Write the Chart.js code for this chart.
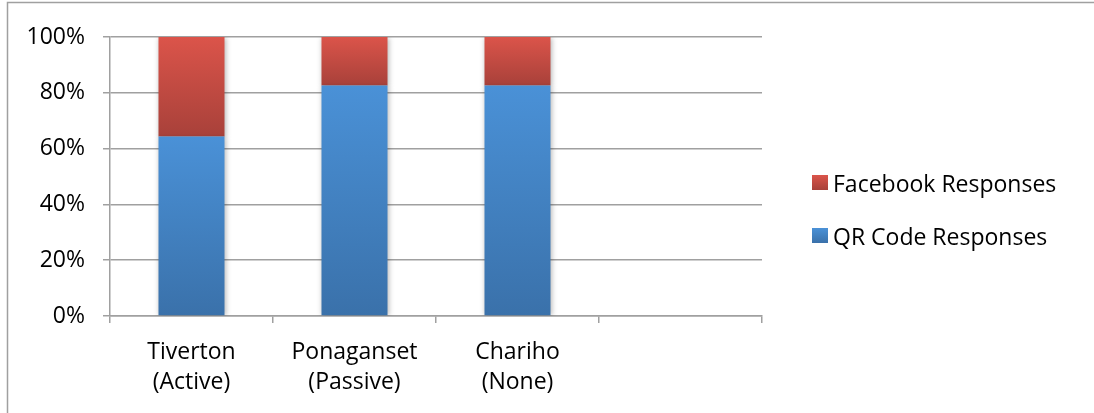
<!DOCTYPE html>
<html>
<head>
<meta charset="utf-8">
<script src="https://cdn.jsdelivr.net/npm/chart.js@4/dist/chart.umd.min.js"></script>
<style>
  html, body { margin: 0; padding: 0; background: #fff; }
  #wrap { width: 1094px; height: 413px; position: relative; }
</style>
</head>
<body>
<div id="wrap"><canvas id="c" width="1094" height="413"></canvas></div>
<script>
const categories = [['Tiverton', '(Active)'], ['Ponaganset', '(Passive)'], ['Chariho', '(None)'], ''];
const qrResponses = [64.3, 82.6, 82.6, null];
const facebookResponses = [35.7, 17.4, 17.4, null];
const yTicks = [0, 20, 40, 60, 80, 100];

const FONT = '"Open Sans", "DejaVu Sans", sans-serif';
const FONT_SIZE = 23;

const seriesColors = {
  'QR Code Responses': ['#4a91d7', '#3a71aa'],
  'Facebook Responses': ['#db544a', '#a8413a']
};

function segGradient(c, lowArr, highArr, topColor, bottomColor) {
  const chart = c.chart;
  if (!chart.chartArea || c.dataIndex === undefined) return topColor;
  const y = chart.scales.y;
  const i = c.dataIndex;
  const lo = lowArr ? (lowArr[i] || 0) : 0;
  const hi = lo + (highArr[i] || 0);
  const yTop = y.getPixelForValue(hi);
  const yBot = y.getPixelForValue(lo);
  if (!isFinite(yTop) || !isFinite(yBot) || yTop === yBot) return topColor;
  const g = chart.ctx.createLinearGradient(0, yTop, 0, yBot);
  g.addColorStop(0, topColor);
  g.addColorStop(1, bottomColor);
  return g;
}

const framePlugin = {
  id: 'frame',
  beforeDraw(chart) {
    const ctx = chart.ctx;
    ctx.save();
    ctx.strokeStyle = '#a0a0a0';
    ctx.lineWidth = 1.5;
    ctx.beginPath();
    ctx.moveTo(7.5, 413);
    ctx.lineTo(7.5, 2.5);
    ctx.lineTo(1094, 2.5);
    ctx.stroke();
    ctx.restore();
  }
};

const shadowPlugin = {
  id: 'barShadow',
  beforeDatasetsDraw(chart) {
    const ctx = chart.ctx;
    ctx.save();
    ctx.shadowColor = 'rgba(0,0,0,0.28)';
    ctx.shadowBlur = 5;
    ctx.shadowOffsetX = 1;
    ctx.shadowOffsetY = 1;
  },
  afterDatasetsDraw(chart) {
    chart.ctx.restore();
  }
};

// Legend drawn to the right of the plot area (reverse dataset order, like the reference)
const sideLegend = {
  id: 'sideLegend',
  afterDraw(chart) {
    const ctx = chart.ctx;
    const ds = chart.data.datasets.slice().reverse();
    const boxX = chart.chartArea.right + 50;
    const firstY = 175;
    const step = 53;
    ctx.save();
    ds.forEach((d, k) => {
      const y = firstY + k * step;
      const cols = seriesColors[d.label];
      const g = ctx.createLinearGradient(0, y, 0, y + 15);
      g.addColorStop(0, cols[0]);
      g.addColorStop(1, cols[1]);
      ctx.fillStyle = g;
      ctx.fillRect(boxX, y, 16, 15);
      ctx.fillStyle = '#000';
      ctx.font = FONT_SIZE + 'px ' + FONT;
      ctx.textBaseline = 'middle';
      ctx.textAlign = 'left';
      ctx.fillText(d.label, boxX + 21, y + 10);
    });
    ctx.restore();
  }
};

new Chart(document.getElementById('c'), {
  type: 'bar',
  data: {
    labels: categories,
    datasets: [
      {
        label: 'QR Code Responses',
        data: qrResponses,
        backgroundColor: (c) => segGradient(c, null, qrResponses, seriesColors['QR Code Responses'][0], seriesColors['QR Code Responses'][1]),
        borderWidth: 0,
        barPercentage: 0.405,
        categoryPercentage: 1
      },
      {
        label: 'Facebook Responses',
        data: facebookResponses,
        backgroundColor: (c) => segGradient(c, qrResponses, facebookResponses, seriesColors['Facebook Responses'][0], seriesColors['Facebook Responses'][1]),
        borderWidth: 0,
        barPercentage: 0.405,
        categoryPercentage: 1
      }
    ]
  },
  options: {
    responsive: false,
    animation: false,
    layout: { padding: { top: 37, left: 0, right: 332, bottom: 0 } },
    plugins: {
      tooltip: { enabled: false },
      legend: { display: false }
    },
    scales: {
      x: {
        stacked: true,
        afterFit(scale) { scale.height = 97; },
        grid: {
          display: true,
          offset: true,
          drawOnChartArea: false,
          drawTicks: true,
          tickLength: 7,
          color: '#a0a0a0',
          lineWidth: 1.5
        },
        border: { display: true, color: '#a0a0a0', width: 1.5 },
        ticks: {
          color: '#000',
          padding: 14,
          font: { family: FONT, size: FONT_SIZE, lineHeight: 1.32 },
          maxRotation: 0,
          autoSkip: false
        }
      },
      y: {
        stacked: true,
        min: 0,
        max: 100,
        afterFit(scale) { scale.width = 110; },
        afterBuildTicks(scale) { scale.ticks = yTicks.map((v) => ({ value: v })); },
        grid: {
          color: '#a0a0a0',
          lineWidth: 1.5,
          tickLength: 7,
          drawTicks: true
        },
        border: { display: true, color: '#a0a0a0', width: 1.5 },
        ticks: {
          color: '#000',
          padding: 18,
          font: { family: FONT, size: FONT_SIZE },
          callback: (v) => v + '%'
        }
      }
    }
  },
  plugins: [framePlugin, shadowPlugin, sideLegend]
});
</script>
</body>
</html>
